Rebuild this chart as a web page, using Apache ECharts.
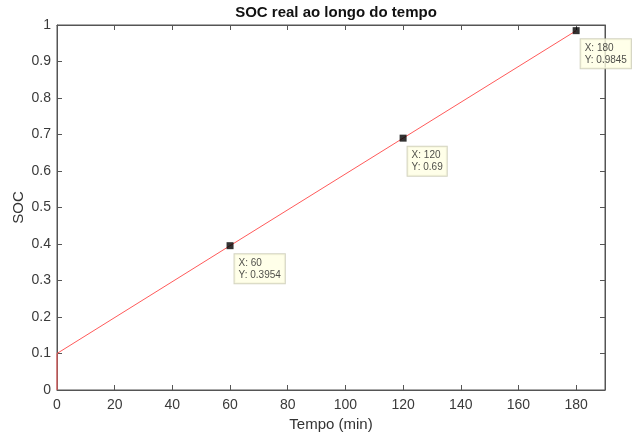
<!DOCTYPE html>
<html><head><meta charset="utf-8">
<script src="https://cdn.jsdelivr.net/npm/echarts@6/dist/echarts.min.js"></script>
<style>html,body{margin:0;padding:0;background:#fff}#c{width:638px;height:437px}</style>
</head><body><div id="c"></div>
<script>
const timeMin = [0, 0, 60, 120, 180];
const socValues = [0, 0.1, 0.3954, 0.69, 0.9845];
const tipX = [60, 120, 180];
const tipY = [0.3954, 0.69, 0.9845];
const tipLabels = ['0.3954', '0.69', '0.9845'];
const xTicks = [0, 20, 40, 60, 80, 100, 120, 140, 160, 180];

const chart = echarts.init(document.getElementById('c'));
const axisCol = '#555';
const font = 'Liberation Sans, Arial, sans-serif';
const lineData = timeMin.map((t, i) => [t, socValues[i]]);
const tipData = tipX.map((t, i) => ({value: [t, tipY[i]], label: {formatter: 'X: ' + t + '\nY: ' + tipLabels[i]}}));
const tick = {show: true, inside: true, length: 5, lineStyle: {color: axisCol, width: 1}};
chart.setOption({
  animation: false,
  title: {text: 'SOC real ao longo do tempo', left: 331, top: 0, textAlign: 'center',
    textStyle: {fontFamily: font, fontSize: 15, fontWeight: 'bold', color: '#111'}},
  grid: {left: 57, right: 33, top: 25, bottom: 47, containLabel: false, outerBoundsMode: 'none',
    show: true, borderColor: axisCol, borderWidth: 1, backgroundColor: 'transparent'},
  xAxis: [{
    type: 'value', min: 0, max: 190, interval: 20, position: 'bottom',
    name: 'Tempo (min)', nameLocation: 'middle', nameGap: 27, nameMoveOverlap: false,
    nameTextStyle: {fontFamily: font, fontSize: 15, color: '#333'},
    axisLine: {show: true, onZero: false, lineStyle: {color: axisCol}},
    axisTick: tick,
    axisLabel: {fontFamily: font, fontSize: 14, color: '#3a3a3a', margin: 8,
      formatter: v => xTicks.includes(v) ? String(v) : ''},
    splitLine: {show: false}
  }, {
    type: 'value', min: 0, max: 190, interval: 20, position: 'top',
    axisLine: {show: true, onZero: false, lineStyle: {color: axisCol}},
    axisTick: tick,
    axisLabel: {show: false}, splitLine: {show: false}
  }],
  yAxis: [{
    type: 'value', min: 0, max: 1, interval: 0.1, position: 'left',
    name: 'SOC', nameLocation: 'middle', nameGap: 31, nameMoveOverlap: false,
    nameTextStyle: {fontFamily: font, fontSize: 15, color: '#333'},
    axisLine: {show: true, onZero: false, lineStyle: {color: axisCol}},
    axisTick: tick,
    axisLabel: {fontFamily: font, fontSize: 14, color: '#3a3a3a', margin: 6,
      formatter: v => String(Math.round(v * 10) / 10)},
    splitLine: {show: false}
  }, {
    type: 'value', min: 0, max: 1, interval: 0.1, position: 'right',
    axisLine: {show: true, onZero: false, lineStyle: {color: axisCol}},
    axisTick: tick,
    axisLabel: {show: false}, splitLine: {show: false}
  }],
  series: [{
    type: 'line', data: lineData, showSymbol: false, symbol: 'none',
    lineStyle: {color: '#ff5a5a', width: 1}, z: 2
  }, {
    type: 'line', xAxisIndex: 1, yAxisIndex: 1, data: [], silent: true
  }, {
    type: 'scatter', data: tipData, symbol: 'rect', symbolSize: 7,
    itemStyle: {color: '#000'}, z: 5,
    label: {show: true, position: [8, 12], fontFamily: font, fontSize: 10, color: '#222',
      lineHeight: 12, backgroundColor: '#ffffe4', borderColor: '#c8c8b0', borderWidth: 1,
      padding: [3, 4, 2, 4], align: 'left', verticalAlign: 'top'}
  }]
});
</script></body></html>
